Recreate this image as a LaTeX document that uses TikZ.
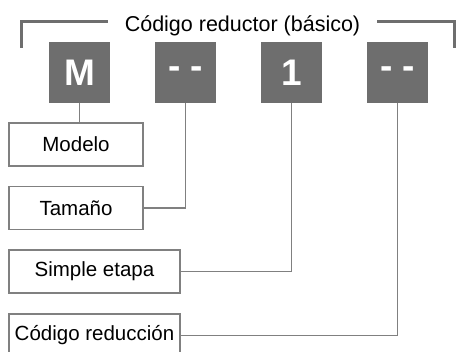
\documentclass[tikz,border=0pt]{standalone}
\usepackage{fontspec}
\setmainfont{Liberation Sans}

\definecolor{boxgray}{HTML}{6E6E6E}
\definecolor{linegray}{HTML}{808080}

\tikzset{
  codebox/.style={fill=boxgray, text=white, font=\fontsize{37}{40}\selectfont\bfseries,
    minimum width=61pt, minimum height=61pt, inner sep=0},
  labelbox/.style={draw=linegray, line width=1.6pt, fill=white,
    font=\fontsize{20.5}{24}\selectfont, minimum height=43pt, inner sep=0},
  link/.style={draw=linegray, line width=1.6pt},
  bracket/.style={draw=boxgray, line width=3pt}
}

\begin{document}
\begin{tikzpicture}[x=1pt, y=-1pt]
  \useasboundingbox (0,0) rectangle (457,352);

  % title with the bracket
  \node[anchor=base, inner xsep=17pt, font=\fontsize{21.5}{25}\selectfont] (title)
    at (242.5, 31.5) {Código reductor (básico)};
  \coordinate (tl) at (21, 22);
  \coordinate (bl) at (21, 48);
  \coordinate (tr) at (454, 22);
  \coordinate (br) at (454, 48);
  \draw[bracket] (bl) -- (tl) -- (tl -| title.west);
  \draw[bracket] (br) -- (tr) -- (tr -| title.east);

  % the four code boxes
  \foreach \x/\t/\n in {79.5/M/mod, 185.5/- -/tam, 291.5/1/eta, 397.5/- -/red}
    {
        \node[codebox] (\n) at (\x, 72.5) {\t};
    }

  % labels
  \node[labelbox, minimum width=134pt] (modelo) at (76, 144.5) {Modelo};
  \node[labelbox, minimum width=134pt] (tamano) at (76, 208) {Tamaño};
  \node[labelbox, minimum width=171pt] (simple) at (94.5, 271.5) {Simple etapa};
  \node[labelbox, minimum width=171pt] (codred) at (94.5, 335.5) {Código reducción};

  \draw[link] (mod.south) -- (mod.south |- modelo.north);
  \draw[link] (tam.south) |- (tamano.east);
  \draw[link] (eta.south) |- (simple.east);
  \draw[link] (red.south) |- (codred.east);

\end{tikzpicture}
\end{document}
